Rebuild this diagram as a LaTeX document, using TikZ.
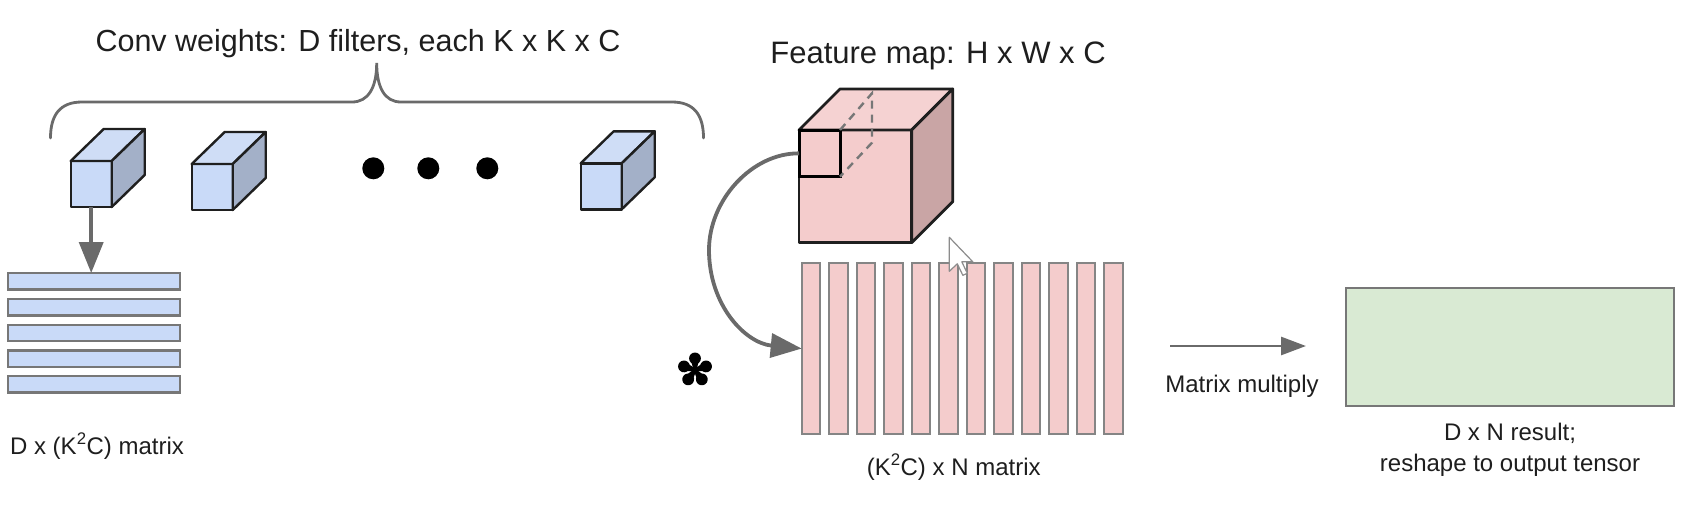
\documentclass[tikz,border=0pt]{standalone}
\usepackage{fontspec}
\setmainfont{Liberation Sans}
\usetikzlibrary{arrows.meta}
\definecolor{bfront}{HTML}{C9DAF8}
\definecolor{btop}{HTML}{CFDDF6}
\definecolor{bside}{HTML}{A3B0C8}
\definecolor{pfront}{HTML}{F4CCCC}
\definecolor{ptop}{HTML}{F5D2D2}
\definecolor{pside}{HTML}{C9A5A5}
\definecolor{gfill}{HTML}{D9EAD3}
\definecolor{agray}{HTML}{6A6A6A}
\definecolor{bgray}{HTML}{777777}
\definecolor{tcol}{HTML}{1E1E1E}
\begin{document}
\begin{tikzpicture}[x=1pt,y=-1pt,
  edge/.style={draw=black!88, line width=2.4pt, line join=round},
  bluefront/.style={edge, fill=bfront, inner sep=0pt, outer sep=0pt, anchor=north west},
  pinkfront/.style={edge, line width=2.8pt, fill=pfront, inner sep=0pt, outer sep=0pt, anchor=north west},
  rowbar/.style={draw=bgray, line width=2.4pt, fill=bfront, inner sep=0pt, outer sep=0pt, anchor=north west, minimum width=172pt, minimum height=16.5pt},
  colbar/.style={draw=bgray!90, line width=2.2pt, fill=pfront, inner sep=0pt, outer sep=0pt, anchor=north west, minimum width=18.5pt, minimum height=170.5pt},
  garrow/.style={draw=agray, line width=3.8pt, -{Triangle[length=31pt,width=24pt]}},
  marrow/.style={draw=agray, line width=2.8pt, -{Triangle[length=25pt,width=18pt]}},
  bigtxt/.style={inner sep=0pt, anchor=base, text=tcol, font=\fontsize{30.5}{36}\selectfont},
  smalltxt/.style={inner sep=0pt, anchor=base, text=tcol, font=\fontsize{24}{29}\selectfont},
  dotnode/.style={circle, fill=black, inner sep=0pt, minimum size=22pt},
  bracepath/.style={draw=agray, line width=2.8pt, line cap=round}
]
\useasboundingbox (0,0) rectangle (1686,528);

% title and brace
\node[bigtxt] (wt) at (358,51.7) {Conv weights: D filters, each K x K x C};
\draw[bracepath] (50.5,138) .. controls (50.5,115) and (60,102) .. (82,102) -- (352,102)
  .. controls (368,102) and (376.7,88) .. (376.7,63)
  .. controls (376.7,88) and (385,102) .. (401,102) -- (672,102)
  .. controls (694,102) and (703.5,115) .. (703.5,138);

% blue cubes
\foreach \n/\x/\y in {f1/70.7/161, f2/191.7/164, f3/580.7/163.3} {
  \node[bluefront, minimum width=41pt, minimum height=46pt] (\n) at (\x,\y) {};
  \filldraw[edge, fill=btop] (\n.north west) -- ++(33,-32) -- ++(41,0) -- (\n.north east) -- cycle;
  \filldraw[edge, fill=bside] (\n.north east) -- ++(33,-32) -- ++(0,46) -- (\n.south east) -- cycle;
}

% dots
\node[dotnode] (d1) at (373.3,168.3) {};
\node[dotnode] (d2) at (428.3,168.3) {};
\node[dotnode] (d3) at (487.3,168.3) {};

% blue rows
\foreach \i/\y in {1/273,2/299,3/324.7,4/350.3,5/375.8} {
  \node[rowbar] (r\i) at (8,\y) {};
}
\draw[garrow] (f1.south) -- (f1.south |- r1.north);

\node[smalltxt] (lbl1) at (97,454) {D x (K\textsuperscript{2}C) matrix};

% feature map cube
\node[bigtxt, font=\fontsize{31}{36}\selectfont] (fm) at (938,63) {Feature map: H x W x C};
\node[pinkfront, minimum width=112.7pt, minimum height=112.7pt] (pf) at (799,130) {};
\filldraw[edge, line width=2.8pt, fill=ptop] (pf.north west) -- ++(41,-41) -- ++(112.7,0) -- (pf.north east) -- cycle;
\filldraw[edge, line width=2.8pt, fill=pside] (pf.north east) -- ++(41,-41) -- ++(0,112.7) -- (pf.south east) -- cycle;
\node[draw=black, line width=3pt, inner sep=0pt, outer sep=0pt, anchor=north west, minimum width=41pt, minimum height=46.7pt] (sq) at (799,130) {};
\draw[draw=bgray, line width=2.4pt, dash pattern=on 8pt off 6pt] (sq.north east) -- (872,93.3) -- (872,142.7) -- (sq.south east);

% pink columns
\foreach \i [evaluate=\i as \xx using 801.7+27.5*(\i-1)] in {1,...,12} {
  \node[colbar] (c\i) at (\xx,263.3) {};
}
\node[smalltxt] (lbl2) at (953.7,475) {(K\textsuperscript{2}C) x N matrix};

% curved arrow
\draw[garrow] (sq.west) .. controls (752,153) and (709,200) .. (709,250)
  .. controls (709,305) and (745,343) .. (c1.west);

% asterisk (five teardrop petals)
\begin{scope}[shift={(695,370)}]
  \fill[black] (0,0) circle[radius=3];
  \foreach \a in {90,162,234,306,18} {
    \fill[black, rotate=\a] (11.6,0) circle[radius=5.9];
    \fill[black, rotate=\a] (0,-1.4) -- (11.6,-4.6) -- (11.6,4.6) -- (0,1.4) -- cycle;
  }
\end{scope}

% matrix multiply arrow and result
\coordinate (ma1) at (1170,346);
\coordinate (ma2) at (1306,346);
\draw[marrow] (ma1) -- (ma2);
\node[smalltxt] (mm) at (1242,392) {Matrix multiply};
\node[draw=bgray, line width=2.4pt, fill=gfill, inner sep=0pt, outer sep=0pt, anchor=north west, minimum width=328pt, minimum height=118pt] (res) at (1346,288) {};
\node[smalltxt] (res1) at (1510,440.7) {D x N result;};
\node[smalltxt] (res2) at (1510,471.7) {reshape to output tensor};

% mouse cursor
\filldraw[fill=white, draw=black!45, line width=1.2pt, line join=round, shift={(949.3,237.3)}]
  (0,0) -- (0,34) -- (8,26.5) -- (13.5,38) -- (18,36) -- (12.5,24.5) -- (23.5,24.5) -- cycle;
\end{tikzpicture}
\end{document}
